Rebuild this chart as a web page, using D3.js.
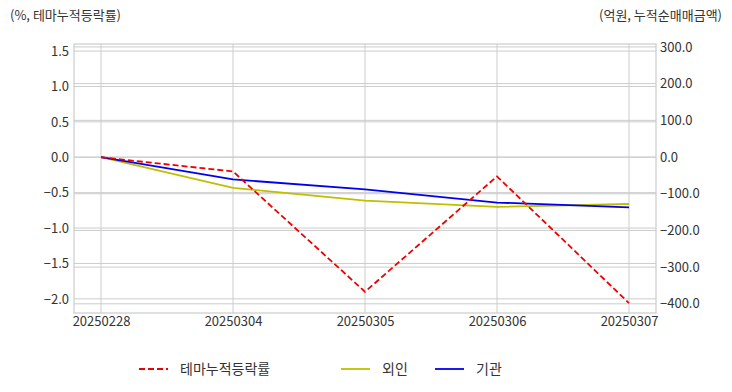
<!DOCTYPE html>
<html><head><meta charset="utf-8">
<script src="https://cdn.jsdelivr.net/npm/d3@7"></script>
<style>body{margin:0;background:#fff;}svg{display:block;font-family:"Noto Sans CJK KR","Noto Sans",sans-serif;}</style>
</head><body><svg id="c" width="732" height="392"></svg>
<script>
const dates = ["20250228","20250304","20250305","20250306","20250307"];
const themeRate = [0.0, -0.20, -1.90, -0.27, -2.06];
const foreign = [0, -84, -119, -136, -128];
const inst = [0, -61, -88, -124, -137];
const leftTicks = [1.5, 1.0, 0.5, 0.0, -0.5, -1.0, -1.5, -2.0];
const rightTicks = [300, 200, 100, 0, -100, -200, -300, -400];
const seriesNames = ["테마누적등락률", "외인", "기관"];

const svg = d3.select("#c");
const L = 74, R = 656, T = 44, B = 313;
const x = d3.scalePoint().domain(dates).range([L, R]).padding(27/132);
const yL = d3.scaleLinear().domain([-2.2, 1.6]).range([B, T]);
const yR = d3.scaleLinear().domain([-425, 308]).range([B, T]);
const grid = "#cccccc";
const font = "'Noto Sans CJK KR','Noto Sans',sans-serif";

// grid
const g = svg.append("g");
g.selectAll(".gl").data(leftTicks).join("line").attr("x1", L).attr("x2", R)
  .attr("y1", d => yL(d)).attr("y2", d => yL(d)).attr("stroke", grid).attr("stroke-width", 1);
g.selectAll(".gr").data(rightTicks).join("line").attr("x1", L).attr("x2", R)
  .attr("y1", d => yR(d)).attr("y2", d => yR(d)).attr("stroke", grid).attr("stroke-width", 1);
g.selectAll(".gx").data(dates).join("line").attr("y1", T).attr("y2", B)
  .attr("x1", d => x(d)).attr("x2", d => x(d)).attr("stroke", grid).attr("stroke-width", 1);
svg.append("rect").attr("x", L).attr("y", T).attr("width", R - L).attr("height", B - T)
  .attr("fill", "none").attr("stroke", grid).attr("stroke-width", 1.2);

// axes
const axL = svg.append("g").attr("transform", `translate(${L},0)`)
  .call(d3.axisLeft(yL).tickValues(leftTicks).tickFormat(d3.format(".1f")).tickSize(0).tickPadding(5));
const axR = svg.append("g").attr("transform", `translate(${R},0)`)
  .call(d3.axisRight(yR).tickValues(rightTicks).tickFormat(d3.format(".1f")).tickSize(0).tickPadding(4));
const axX = svg.append("g").attr("transform", `translate(0,${B})`)
  .call(d3.axisBottom(x).tickSize(0).tickPadding(4));
[axL, axR, axX].forEach(a => {
  a.select(".domain").remove();
  a.selectAll("text").attr("font-size", 13).attr("fill", "#333").attr("font-family", font);
});

// lines
const lineL = d3.line().x((d, i) => x(dates[i])).y(d => yL(d));
const lineR = d3.line().x((d, i) => x(dates[i])).y(d => yR(d));
svg.append("path").datum(foreign).attr("d", lineR).attr("fill", "none").attr("stroke", "#bfbf00").attr("stroke-width", 1.8);
svg.append("path").datum(inst).attr("d", lineR).attr("fill", "none").attr("stroke", "#0000ee").attr("stroke-width", 1.8);
svg.append("path").datum(themeRate).attr("d", lineL).attr("fill", "none").attr("stroke", "#ee0000").attr("stroke-width", 1.8).attr("stroke-dasharray", "6,3");

// titles
svg.append("text").attr("x", 10).attr("y", 20).attr("font-size", 13).attr("fill", "#333").text("(%, 테마누적등락률)");
svg.append("text").attr("x", 722).attr("y", 20).attr("text-anchor", "end").attr("font-size", 13).attr("fill", "#333").text("(억원, 누적순매매금액)");

// legend
const leg = [
  {name: seriesNames[0], color: "#ee0000", dash: "6,3", x: 139},
  {name: seriesNames[1], color: "#bfbf00", dash: null, x: 341},
  {name: seriesNames[2], color: "#0000ee", dash: null, x: 435}
];
const lg = svg.append("g");
leg.forEach(d => {
  lg.append("line").attr("x1", d.x).attr("x2", d.x + 29).attr("y1", 369).attr("y2", 369)
    .attr("stroke", d.color).attr("stroke-width", 1.8).attr("stroke-dasharray", d.dash);
  lg.append("text").attr("x", d.x + 41).attr("y", 374).attr("font-size", 14).attr("fill", "#333").text(d.name);
});
</script></body></html>
